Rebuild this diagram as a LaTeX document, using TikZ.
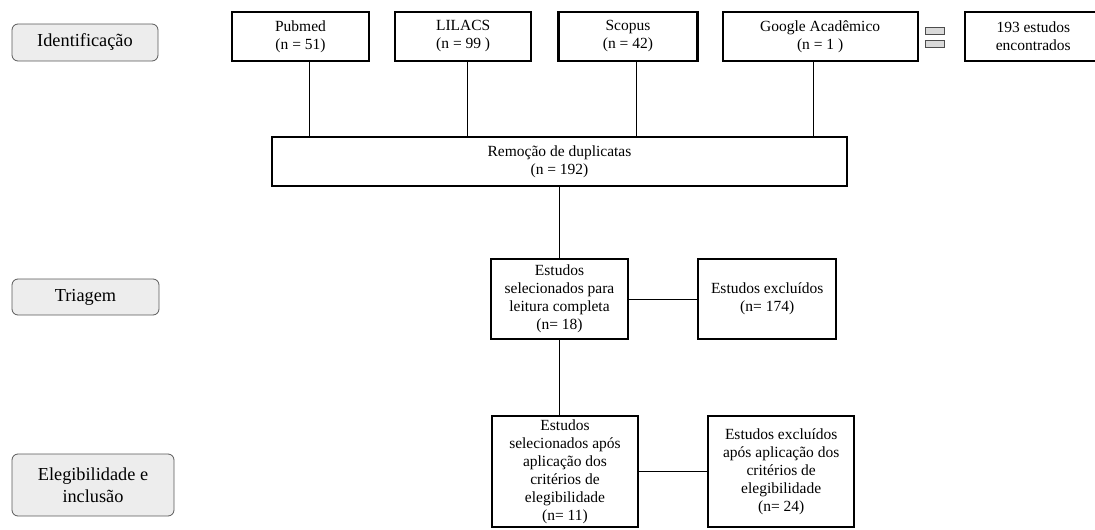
\documentclass[tikz,border=0pt]{standalone}
\usepackage{fontspec}
\setmainfont{Liberation Serif}
\usetikzlibrary{positioning}

\tikzset{
  stage/.style={draw, line width=2.2pt, fill=white, align=center, inner sep=2pt,
    font=\fontsize{15.5}{18}\selectfont},
  phase/.style={draw=black!65, line width=0.8pt, rounded corners=6pt, fill=black!7,
    align=center, inner sep=2pt, font=\fontsize{18.3}{21.7}\selectfont},
  tag/.style={draw=black!70, line width=0.7pt, fill=black!15, inner sep=0pt,
    minimum width=19pt, minimum height=7pt},
  link/.style={line width=0.9pt},
}

\begin{document}
\begin{tikzpicture}[x=1pt,y=-1pt]
  \useasboundingbox (0,0) rectangle (1095,530);
  % fases
  \node[phase, minimum width=146pt, minimum height=37pt] (ident) at (85,42.5) {Identificação};
  \node[phase, minimum width=147pt, minimum height=36pt] (triag) at (85.5,297) {Triagem};
  \node[phase, minimum width=162pt, minimum height=62pt] (eleg) at (93,485) {Elegibilidade e\\inclusão};
  % bases de dados
  \node[stage, minimum width=137pt, minimum height=49pt] (pubmed) at (300.5,36.5) {Pubmed\\(n = 51)};
  \node[stage, minimum width=136pt, minimum height=49pt, right=24pt of pubmed] (lilacs) {LILACS\\(n = 99 )};
  \node[stage, minimum width=139pt, minimum height=49pt, right=25pt of lilacs] (scopus) {Scopus\\(n = 42)};
  \node[stage, minimum width=195pt, minimum height=49pt, right=23pt of scopus] (google) {Google Acadêmico\\(n = 1 )};
  \node[tag] (tagA) at (934.5,30.5) {};
  \node[tag, below=6pt of tagA] (tagB) {};
  \node[stage, minimum width=137pt, minimum height=49pt, right=45pt of google] (found) {193 estudos\\encontrados};
  \node[stage, minimum width=575pt, minimum height=49pt] (remocao) at (559.5,161.5) {Remoção de duplicatas\\(n = 192)};
  % triagem
  \node[stage, minimum width=137pt, minimum height=80pt] (selec) at (559.5,299) {Estudos\\selecionados para\\leitura completa\\(n= 18)};
  \node[stage, minimum width=138pt, minimum height=80pt, right=68pt of selec] (excl) {Estudos excluídos\\(n= 174)};
  % elegibilidade
  \node[stage, minimum width=146pt, minimum height=111pt] (final) at (565,471.5) {Estudos\\selecionados após\\aplicação dos\\critérios de\\elegibilidade\\(n= 11)};
  \node[stage, minimum width=146pt, minimum height=111pt, right=68pt of final] (excl2) {Estudos excluídos\\após aplicação dos\\critérios de\\elegibilidade\\(n= 24)};
  % ligacoes
  \draw[link] ([xshift=8.5pt]pubmed.south) -- ([xshift=8.5pt]pubmed.south |- remocao.north);
  \draw[link] ([xshift=4pt]lilacs.south) -- ([xshift=4pt]lilacs.south |- remocao.north);
  \draw[link] ([xshift=9pt]scopus.south) -- ([xshift=9pt]scopus.south |- remocao.north);
  \draw[link] ([xshift=-6.5pt]google.south) -- ([xshift=-6.5pt]google.south |- remocao.north);
  \draw[link] (remocao.south) -- (selec.north);
  \draw[link] (selec.east) -- (excl.west);
  \draw[link] (selec.south) -- (selec.south |- final.north);
  \draw[link] (final.east) -- (excl2.west);
\end{tikzpicture}
\end{document}
